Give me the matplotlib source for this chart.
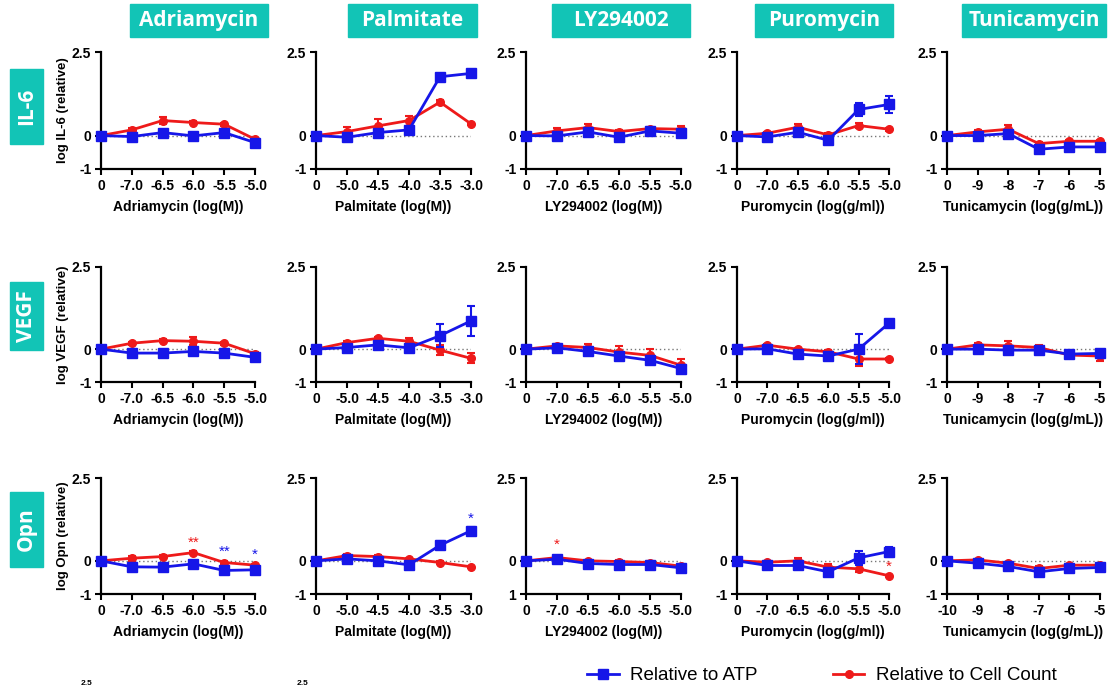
import numpy as np
import matplotlib
matplotlib.use("Agg")
import matplotlib.pyplot as plt
from matplotlib.patches import Rectangle

plt.rcParams['font.family'] = ['Liberation Sans', 'DejaVu Sans']

# Données (log relatif)
drugs = ["Adriamycin", "Palmitate", "LY294002", "Puromycin", "Tunicamycin"]
markers_names = ["IL-6", "VEGF", "Opn"]
x_labels = ["Adriamycin (log(M))", "Palmitate (log(M))", "LY294002 (log(M))",
            "Puromycin (log(g/ml))", "Tunicamycin (log(g/mL))"]
dose_ticks = [
    ["0", "-7.0", "-6.5", "-6.0", "-5.5", "-5.0"],
    ["0", "-5.0", "-4.5", "-4.0", "-3.5", "-3.0"],
    ["0", "-7.0", "-6.5", "-6.0", "-5.5", "-5.0"],
    ["0", "-7.0", "-6.5", "-6.0", "-5.5", "-5.0"],
    ["0", "-9", "-8", "-7", "-6", "-5"],
]
tuni_opn_ticks = ["-10", "-9", "-8", "-7", "-6", "-5"]

il6_atp = [[0, -0.03, 0.09, -0.01, 0.09, -0.21],
           [0, -0.05, 0.09, 0.17, 1.76, 1.86],
           [0, -0.01, 0.11, -0.05, 0.14, 0.07],
           [0, -0.04, 0.10, -0.14, 0.78, 0.93],
           [0, 0.00, 0.06, -0.41, -0.34, -0.34]]
il6_atp_err = [[0.03, 0.05, 0.05, 0.05, 0.05, 0.06],
               [0.03, 0.05, 0.06, 0.08, 0.05, 0.10],
               [0.03, 0.06, 0.06, 0.06, 0.05, 0.05],
               [0.03, 0.05, 0.05, 0.06, 0.20, 0.25],
               [0.03, 0.05, 0.05, 0.06, 0.06, 0.05]]
il6_cell = [[0, 0.17, 0.45, 0.39, 0.34, -0.11],
            [0, 0.12, 0.29, 0.45, 1.00, 0.35],
            [0, 0.14, 0.24, 0.12, 0.21, 0.19],
            [0, 0.07, 0.25, 0.02, 0.30, 0.19],
            [0, 0.11, 0.19, -0.24, -0.17, -0.17]]
il6_cell_err = [[0.02, 0.05, 0.10, 0.05, 0.05, 0.05],
                [0.02, 0.15, 0.20, 0.15, 0.05, 0.04],
                [0.02, 0.08, 0.12, 0.05, 0.05, 0.10],
                [0.02, 0.05, 0.10, 0.05, 0.08, 0.04],
                [0.02, 0.05, 0.12, 0.05, 0.04, 0.04]]

vegf_atp = [[0, -0.12, -0.12, -0.07, -0.12, -0.25],
            [0, 0.05, 0.13, 0.04, 0.41, 0.86],
            [0, 0.04, -0.07, -0.21, -0.34, -0.59],
            [0, 0.01, -0.15, -0.21, 0.00, 0.79],
            [0, 0.00, -0.03, -0.03, -0.15, -0.13]]
vegf_atp_err = [[0.03, 0.04, 0.04, 0.04, 0.04, 0.04],
                [0.03, 0.05, 0.05, 0.05, 0.35, 0.45],
                [0.03, 0.05, 0.06, 0.08, 0.10, 0.08],
                [0.03, 0.04, 0.05, 0.05, 0.45, 0.05],
                [0.03, 0.04, 0.05, 0.05, 0.05, 0.06]]
vegf_cell = [[0, 0.18, 0.26, 0.24, 0.18, -0.14],
             [0, 0.20, 0.33, 0.24, -0.03, -0.28],
             [0, 0.10, 0.05, -0.09, -0.19, -0.49],
             [0, 0.12, 0.00, -0.08, -0.30, -0.30],
             [0, 0.13, 0.10, 0.05, -0.18, -0.21]]
vegf_cell_err = [[0.02, 0.04, 0.04, 0.12, 0.04, 0.04],
                 [0.02, 0.05, 0.05, 0.10, 0.15, 0.15],
                 [0.02, 0.05, 0.10, 0.20, 0.20, 0.18],
                 [0.02, 0.04, 0.04, 0.04, 0.20, 0.03],
                 [0.02, 0.05, 0.15, 0.08, 0.10, 0.15]]

opn_atp = [[0, -0.18, -0.19, -0.09, -0.29, -0.27],
           [0, 0.06, 0.00, -0.12, 0.47, 0.91],
           [0, 0.05, -0.08, -0.11, -0.11, -0.21],
           [0, -0.14, -0.14, -0.33, 0.09, 0.28],
           [0, -0.07, -0.17, -0.33, -0.23, -0.20]]
opn_atp_err = [[0.03, 0.04, 0.04, 0.04, 0.04, 0.04],
               [0.03, 0.04, 0.04, 0.05, 0.12, 0.12],
               [0.03, 0.04, 0.05, 0.05, 0.05, 0.06],
               [0.03, 0.05, 0.05, 0.10, 0.20, 0.15],
               [0.03, 0.04, 0.05, 0.10, 0.10, 0.06]]
opn_cell = [[0, 0.08, 0.13, 0.25, -0.05, -0.13],
            [0, 0.16, 0.13, 0.06, -0.05, -0.18],
            [0, 0.10, 0.00, -0.02, -0.05, -0.16],
            [0, -0.04, 0.00, -0.19, -0.24, -0.45],
            [0, 0.03, -0.07, -0.23, -0.13, -0.13]]
opn_cell_err = [[0.02, 0.08, 0.04, 0.04, 0.04, 0.04],
                [0.02, 0.04, 0.04, 0.04, 0.05, 0.03],
                [0.02, 0.04, 0.04, 0.04, 0.04, 0.04],
                [0.02, 0.04, 0.10, 0.10, 0.10, 0.03],
                [0.02, 0.03, 0.04, 0.06, 0.04, 0.04]]

atp_rows = [il6_atp, vegf_atp, opn_atp]
atp_err_rows = [il6_atp_err, vegf_atp_err, opn_atp_err]
cell_rows = [il6_cell, vegf_cell, opn_cell]
cell_err_rows = [il6_cell_err, vegf_cell_err, opn_cell_err]

# étoiles de significativité : (ligne, colonne, indice dose, y, texte, série)
stars = [(2, 0, 3, 0.56, "**", "cell"),
         (2, 0, 4, 0.27, "**", "atp"),
         (2, 0, 5, 0.17, "*", "atp"),
         (2, 1, 5, 1.26, "*", "atp"),
         (2, 2, 1, 0.48, "*", "cell"),
         (2, 3, 5, -0.19, "*", "cell")]

BLUE = "#1616e8"
RED = "#ee1a1a"
TEAL = "#12c4b6"
W, H = 1118, 688

fig = plt.figure(figsize=(W / 100, H / 100), dpi=100)

col_left = [101, 316, 526, 737, 947]
col_right = [255, 471, 681, 889, 1100]
row_top = [52, 267, 478]
row_bot = [169, 382, 594]

x = np.arange(6)
for r in range(3):
    for c in range(5):
        ax = fig.add_axes([col_left[c] / W, 1 - row_bot[r] / H,
                           (col_right[c] - col_left[c]) / W,
                           (row_bot[r] - row_top[r]) / H])
        ax.axhline(0, color="#777777", ls=(0, (1, 2)), lw=1, zorder=0)
        eb_atp = ax.errorbar(x, atp_rows[r][c], yerr=atp_err_rows[r][c], color=BLUE,
                             marker="s", ms=7, lw=2, capsize=3, elinewidth=1.5,
                             capthick=1.5, clip_on=False, zorder=3)
        eb_cell = ax.errorbar(x, cell_rows[r][c], yerr=cell_err_rows[r][c], color=RED,
                              marker="o", ms=5.5, lw=2, capsize=3, elinewidth=1.5,
                              capthick=1.5, clip_on=False, zorder=2)
        for artist in eb_atp.lines[1] + eb_atp.lines[2] + eb_cell.lines[1] + eb_cell.lines[2]:
            artist.set_clip_on(False)
        ax.set_xlim(0, 5)
        ax.set_ylim(-1, 2.5)
        ax.set_yticks([-1, 0, 2.5])
        if r == 2 and c == 2:
            ax.set_yticklabels(["1", "0", "2.5"])
        else:
            ax.set_yticklabels(["-1", "0", "2.5"])
        ax.set_xticks(x)
        if r == 2 and c == 4:
            ax.set_xticklabels(tuni_opn_ticks)
        else:
            ax.set_xticklabels(dose_ticks[c])
        for s in ["top", "right"]:
            ax.spines[s].set_visible(False)
        for s in ["left", "bottom"]:
            ax.spines[s].set_linewidth(1.6)
        ax.tick_params(length=4, width=1.5, pad=3, labelsize=10)
        for lab in ax.get_xticklabels() + ax.get_yticklabels():
            lab.set_fontweight("bold")
        ax.set_xlabel(x_labels[c], fontsize=10, fontweight="bold", labelpad=5)
        if c == 0:
            ax.set_ylabel("log %s (relative)" % markers_names[r], fontsize=9.5,
                          fontweight="bold", labelpad=2)
        ax.set_facecolor("none")
        for (sr, sc, xi, ys, txt, ser) in stars:
            if sr == r and sc == c:
                ax.text(x[xi], ys, txt, color=BLUE if ser == "atp" else RED,
                        fontsize=11, ha="center", va="center", clip_on=False)
        if r == 0 and c == 0:
            h_atp, h_cell = eb_atp.lines[0], eb_cell.lines[0]

# en-têtes colonnes
header_boxes = [(130, 268), (348, 477), (552, 690), (755, 893), (962, 1106)]
for name, (x0, x1) in zip(drugs, header_boxes):
    fig.patches.append(Rectangle((x0 / W, 1 - 37 / H), (x1 - x0) / W, 33 / H,
                                 transform=fig.transFigure, color=TEAL, zorder=0))
    fig.text((x0 + x1) / 2 / W, 1 - 20.5 / H, name, color="white", fontsize=15,
             fontweight="bold", family="Open Sans", ha="center", va="center")

# étiquettes lignes
row_boxes = [(69, 144), (282, 350), (492, 567)]
for name, (y0, y1) in zip(markers_names, row_boxes):
    fig.patches.append(Rectangle((10 / W, 1 - y1 / H), 33 / W, (y1 - y0) / H,
                                 transform=fig.transFigure, color=TEAL, zorder=0))
    fig.text(26.5 / W, 1 - (y0 + y1) / 2 / H, name, color="white", fontsize=15,
             fontweight="bold", family="Open Sans", rotation=90,
             ha="center", va="center")

# amorce de la rangée suivante, en bas à gauche
fig.text(92 / W, 1 / H, "2.5", fontsize=6, fontweight="bold", ha="right", va="bottom")
fig.text(308 / W, 1 / H, "2.5", fontsize=6, fontweight="bold", ha="right", va="bottom")

fig.legend([h_atp, h_cell], ["Relative to ATP", "Relative to Cell Count"],
           loc="center", bbox_to_anchor=(0.735, 0.018), ncol=2, frameon=False,
           fontsize=13.5, handlelength=1.7, columnspacing=4, handletextpad=0.6)

fig.savefig("out.png", dpi=100)
